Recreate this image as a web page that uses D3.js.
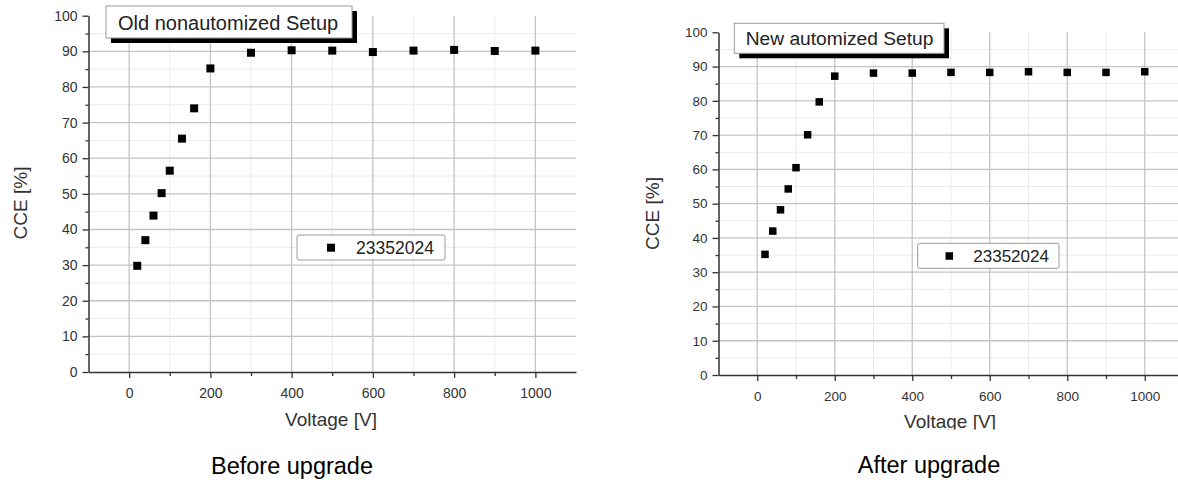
<!DOCTYPE html>
<html>
<head>
<meta charset="utf-8">
<script src="https://cdn.jsdelivr.net/npm/d3@7"></script>
<style>
  html, body { margin: 0; padding: 0; background: #fff; }
  svg { display: block; }
  text { font-family: "Liberation Sans", Arial, sans-serif; }
</style>
</head>
<body>
<svg id="chart" width="1178" height="483"></svg>
<script>
// ---------- data ----------
const voltageOld = [20, 40, 60, 80, 100, 130, 160, 200, 300, 400, 500, 600, 700, 800, 900, 1000];
const cceOld     = [29.8, 37.0, 43.9, 50.2, 56.5, 65.5, 74.0, 85.2, 89.6, 90.3, 90.2, 89.8, 90.2, 90.4, 90.1, 90.2];
const voltageNew = [20, 40, 60, 80, 100, 130, 160, 200, 300, 400, 500, 600, 700, 800, 900, 1000];
const cceNew     = [35.2, 42.0, 48.2, 54.3, 60.5, 70.1, 79.7, 87.2, 88.1, 88.1, 88.3, 88.3, 88.5, 88.3, 88.3, 88.5];
const xMajorTicks = [0, 200, 400, 600, 800, 1000];
const xMinorTicks = [100, 300, 500, 700, 900];
const yMajorTicks = [0, 10, 20, 30, 40, 50, 60, 70, 80, 90, 100];
const yMinorTicks = [5, 15, 25, 35, 45, 55, 65, 75, 85, 95];
const seriesName = "23352024";
const titles = ["Old nonautomized Setup", "New automized Setup"];
const captions = ["Before upgrade", "After upgrade"];
const xLabel = "Voltage [V]";
const yLabel = "CCE [%]";

// ---------- layout ----------
const panels = [
  { volts: voltageOld, cce: cceOld, title: titles[0], caption: captions[0],
    xr: [88.5, 576], yr: [372, 15.7], marker: 8,
    titleBox: { x: 106, y: 6, w: 246, h: 32, tx: 118, ty: 29.5, fs: 20 },
    legend: { x: 297, y: 235, w: 148, h: 25, mx: 331, my: 247.7, tx: 356, ty: 253.7, fs: 17.5 },
    yLab: { x: 20, y: 203 }, xLab: { x: 331, y: 426 }, cap: { x: 292, y: 474 },
    tickFs: 14, xClip: null },
  { volts: voltageNew, cce: cceNew, title: titles[1], caption: captions[1],
    xr: [718.5, 1183.5], yr: [375, 32.3], marker: 7.5,
    titleBox: { x: 734.3, y: 23.3, w: 209.7, h: 30, tx: 745.7, ty: 45, fs: 19.2 },
    legend: { x: 917.7, y: 243.3, w: 141.3, h: 25, mx: 949.3, my: 256, tx: 973.3, ty: 261.9, fs: 17 },
    yLab: { x: 652, y: 213.5 }, xLab: { x: 950, y: 428 }, cap: { x: 929, y: 472.7 },
    tickFs: 13.5, xClip: 429.5 }
];

const svg = d3.select("#chart");
svg.append("rect").attr("width", 1178).attr("height", 483).attr("fill", "#fff");

panels.forEach((p, i) => {
  const x = d3.scaleLinear().domain([-100, 1100]).range(p.xr);
  const y = d3.scaleLinear().domain([0, 100]).range(p.yr);
  const g = svg.append("g");
  const [x0, x1] = p.xr;
  const [yb, yt] = p.yr;
  const right = Math.min(x1, 1178);

  // minor grid
  g.append("g").selectAll("line.hm").data(yMinorTicks).join("line")
    .attr("x1", x0).attr("x2", right).attr("y1", d => y(d)).attr("y2", d => y(d))
    .attr("stroke", "#ebebeb").attr("stroke-width", 1);
  g.append("g").selectAll("line.vm").data(xMinorTicks).join("line")
    .attr("x1", d => x(d)).attr("x2", d => x(d)).attr("y1", yb).attr("y2", yt)
    .attr("stroke", "#ebebeb").attr("stroke-width", 1);
  // major grid
  g.append("g").selectAll("line.h").data(yMajorTicks.filter(d => d > 0 && d < 100)).join("line")
    .attr("x1", x0).attr("x2", right).attr("y1", d => y(d)).attr("y2", d => y(d))
    .attr("stroke", "#c4c4c4").attr("stroke-width", 1.3);
  g.append("g").selectAll("line.v").data(xMajorTicks).join("line")
    .attr("x1", d => x(d)).attr("x2", d => x(d)).attr("y1", yb).attr("y2", yt)
    .attr("stroke", "#c4c4c4").attr("stroke-width", 1.3);

  // axes
  const axisColor = "#333";
  g.append("g").attr("transform", `translate(${x0},0)`)
    .call(d3.axisLeft(y).tickValues(yMajorTicks).tickFormat(d3.format("d"))
      .tickSize(6).tickSizeOuter(0).tickPadding(5));
  g.append("g").attr("transform", `translate(${x0},0)`)
    .call(d3.axisLeft(y).tickValues(yMinorTicks).tickSize(3).tickSizeOuter(0).tickFormat(""))
    .call(a => a.select(".domain").remove());
  g.append("g").attr("transform", `translate(0,${yb})`)
    .call(d3.axisBottom(x).tickValues(xMajorTicks).tickFormat(d3.format("d"))
      .tickSize(6).tickSizeOuter(0).tickPadding(10));
  g.append("g").attr("transform", `translate(0,${yb})`)
    .call(d3.axisBottom(x).tickValues(xMinorTicks).tickSize(4).tickSizeOuter(0).tickFormat(""))
    .call(a => a.select(".domain").remove());
  g.selectAll(".domain").attr("stroke", axisColor).attr("stroke-width", 1.5);
  g.selectAll(".tick line").attr("stroke", axisColor).attr("stroke-width", 1.3);
  g.selectAll(".tick text").attr("fill", "#333").attr("font-size", p.tickFs)
    .attr("font-family", "'Liberation Sans', Arial, sans-serif");

  // points
  const data = p.volts.map((v, k) => ({ v, c: p.cce[k] }));
  g.append("g").selectAll("rect").data(data).join("rect")
    .attr("x", d => x(d.v) - p.marker / 2).attr("y", d => y(d.c) - p.marker / 2)
    .attr("width", p.marker).attr("height", p.marker).attr("fill", "#000");

  // title box with shadow
  const tb = p.titleBox;
  g.append("rect").attr("x", tb.x + 5).attr("y", tb.y + 5).attr("width", tb.w).attr("height", tb.h).attr("fill", "#000");
  g.append("rect").attr("x", tb.x).attr("y", tb.y).attr("width", tb.w).attr("height", tb.h)
    .attr("fill", "#fff").attr("stroke", "#9a9a9a").attr("stroke-width", 1);
  g.append("text").attr("x", tb.tx).attr("y", tb.ty).attr("font-size", tb.fs).attr("fill", "#222").text(p.title);

  // legend
  const lg = p.legend;
  g.append("rect").attr("x", lg.x).attr("y", lg.y).attr("width", lg.w).attr("height", lg.h).attr("rx", 2)
    .attr("fill", "#fff").attr("stroke", "#999").attr("stroke-width", 1);
  g.append("rect").attr("x", lg.mx - p.marker / 2).attr("y", lg.my - p.marker / 2)
    .attr("width", p.marker).attr("height", p.marker).attr("fill", "#000");
  g.append("text").attr("x", lg.tx).attr("y", lg.ty).attr("font-size", lg.fs).attr("fill", "#222").text(seriesName);

  // axis labels
  g.append("text").attr("transform", `translate(${p.yLab.x},${p.yLab.y}) rotate(-90)`)
    .attr("text-anchor", "middle").attr("dominant-baseline", "central")
    .attr("font-size", 19).attr("fill", "#333").text(yLabel);
  const xl = g.append("text").attr("x", p.xLab.x).attr("y", p.xLab.y).attr("text-anchor", "middle")
    .attr("font-size", 19).attr("fill", "#333").text(xLabel);
  if (p.xClip) {
    const id = "clipx" + i;
    svg.append("clipPath").attr("id", id).append("rect")
      .attr("x", 0).attr("y", 0).attr("width", 1178).attr("height", p.xClip);
    xl.attr("clip-path", `url(#${id})`);
  }

  // caption
  g.append("text").attr("x", p.cap.x).attr("y", p.cap.y).attr("text-anchor", "middle")
    .attr("font-family", "'Open Sans', 'Noto Sans', sans-serif")
    .attr("font-size", 23.5).attr("fill", "#000").text(p.caption);
});
</script>
</body>
</html>
